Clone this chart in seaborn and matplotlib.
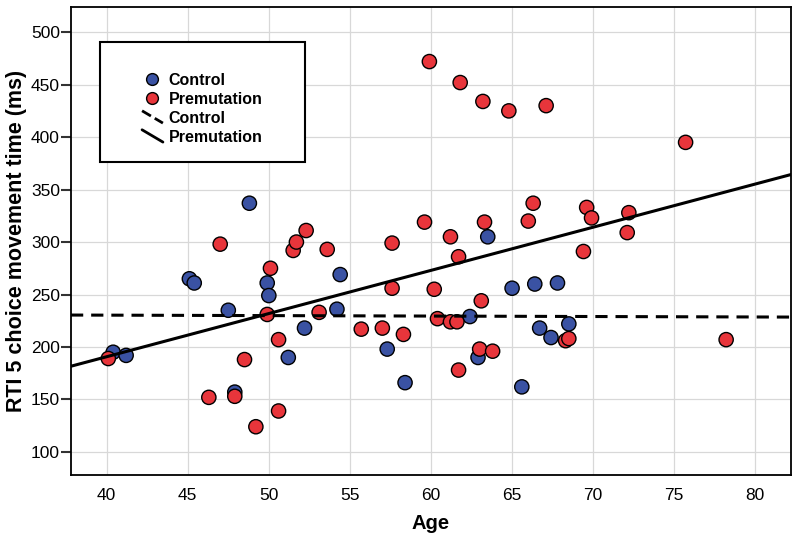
import pandas as pd
import seaborn as sns
import matplotlib.pyplot as plt
from matplotlib.lines import Line2D
from matplotlib.patches import Rectangle
from matplotlib.legend_handler import HandlerLine2D

# values
control_age = [40.4, 41.2, 45.1, 45.4, 47.5, 47.9, 48.8, 49.9, 50.0, 51.2, 52.2, 54.2, 54.4,
               57.3, 58.4, 62.4, 62.9, 63.5, 65.0, 65.6, 66.4, 66.7, 67.4, 67.8, 68.5]
control_rt = [195, 192, 265, 261, 235, 157, 337, 261, 249, 190, 218, 236, 269,
              198, 166, 229, 190, 305, 256, 162, 260, 218, 209, 261, 222]

premut_age = [40.1, 46.3, 47.0, 47.9, 48.5, 49.2, 49.9, 50.1, 50.6, 50.6, 51.5, 51.7, 52.3,
              53.1, 53.6, 55.7, 57.0, 57.6, 57.6, 58.3, 59.6, 59.9, 60.2, 60.4, 61.2, 61.2,
              61.6, 61.7, 61.7, 61.8, 63.1, 63.0, 63.2, 63.3, 63.8, 64.8, 66.0, 66.3, 67.1,
              68.3, 68.5, 69.4, 69.6, 69.9, 72.1, 72.2, 75.7, 78.2]
premut_rt = [189, 152, 298, 153, 188, 124, 231, 275, 207, 139, 292, 300, 311,
             233, 293, 217, 218, 299, 256, 212, 319, 472, 255, 227, 305, 224,
             224, 178, 286, 452, 244, 198, 434, 319, 196, 425, 320, 337, 430,
             206, 208, 291, 333, 323, 309, 328, 395, 207]

groups = ['Control', 'Premutation']
colors = {'Control': '#3a52a3', 'Premutation': '#e8353b'}

df = pd.DataFrame({
    'Age': control_age + premut_age,
    'RT': control_rt + premut_rt,
    'Group': ['Control'] * len(control_age) + ['Premutation'] * len(premut_age),
})

sns.set_theme(style='whitegrid')
plt.rcParams['font.family'] = ['Liberation Sans', 'DejaVu Sans']
plt.rcParams.update({'text.color': 'black', 'axes.labelcolor': 'black',
                     'xtick.color': 'black', 'ytick.color': 'black'})

fig = plt.figure(figsize=(8, 5.41), dpi=100)
ax = fig.add_axes([71 / 800, 1 - 475 / 541, 720 / 800, 468 / 541])
ax.set_xlim(37.8, 82.2)
ax.set_ylim(78, 524)

sns.scatterplot(data=df, x='Age', y='RT', hue='Group', hue_order=groups, palette=colors,
                s=105, edgecolor='black', linewidth=1, legend=False, zorder=3, ax=ax)

line_styles = {'Control': (0, (4, 2.6)), 'Premutation': '-'}
for g in groups:
    sns.regplot(data=df[df['Group'] == g], x='Age', y='RT', scatter=False, ci=None,
                truncate=False, color='black',
                line_kws={'linewidth': 2.2, 'linestyle': line_styles[g], 'zorder': 4}, ax=ax)

ax.set_xlim(37.8, 82.2)
ax.set_ylim(78, 524)
ax.set_xticks(range(40, 81, 5))
ax.set_yticks(range(100, 501, 50))
ax.grid(True, color='#d8d8d8', linewidth=0.9)
ax.set_axisbelow(True)
for sp in ax.spines.values():
    sp.set_color('black')
    sp.set_linewidth(1.3)
ax.tick_params(axis='y', length=7, width=1.5, color='#333333', labelsize=12.5, pad=1, left=True)
ax.tick_params(axis='x', length=0, labelsize=12.5, pad=9)
ax.set_xlabel('Age', fontsize=14.5, fontweight='bold', labelpad=8)
ax.set_ylabel('RTI 5 choice movement time (ms)', fontsize=15.5, fontweight='bold', labelpad=3)


class DiagHandler(HandlerLine2D):
    def create_artists(self, legend, orig_handle, xdescent, ydescent, width, height,
                       fontsize, trans):
        x0 = -xdescent + width * 0.05
        x1 = -xdescent + width * 0.95
        y0 = -ydescent + height * 1.05
        y1 = -ydescent - height * 0.05
        ln = Line2D([x0, x1], [y0, y1], color='black', linewidth=2,
                    linestyle=orig_handle.get_linestyle())
        ln.set_transform(trans)
        return [ln]


handles = [Line2D([], [], marker='o', linestyle='', markerfacecolor=colors[g],
                  markeredgecolor='black', markersize=8.5) for g in groups]
line_handles = [Line2D([], [], color='black', linestyle=(0, (3, 2))),
                Line2D([], [], color='black', linestyle='-')]
ax.add_patch(Rectangle((0.040, 0.669), 0.285, 0.256, transform=ax.transAxes,
                       facecolor='white', edgecolor='black', linewidth=1.5, zorder=5))
ax.legend(handles + line_handles, groups + groups, loc='upper left',
          bbox_to_anchor=(0.086, 0.877), frameon=False, handlelength=1.45,
          handletextpad=0.3, labelspacing=0.25, borderpad=0,
          prop={'weight': 'bold', 'size': 11.5},
          handler_map={h: DiagHandler() for h in line_handles}).set_zorder(6)

fig.savefig('out.png', dpi=100)
